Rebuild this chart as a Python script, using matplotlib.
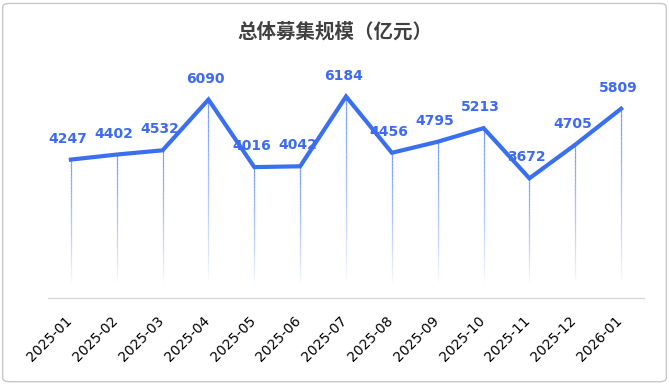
import matplotlib.pyplot as plt
import numpy as np
from matplotlib.collections import LineCollection
from matplotlib.patches import FancyBboxPatch
from matplotlib.transforms import ScaledTranslation

plt.rcParams['font.family'] = ['Noto Sans CJK SC', 'DejaVu Sans']

months = ['2025-01', '2025-02', '2025-03', '2025-04', '2025-05', '2025-06', '2025-07',
          '2025-08', '2025-09', '2025-10', '2025-11', '2025-12', '2026-01']
values = [4247, 4402, 4532, 6090, 4016, 4042, 6184, 4456, 4795, 5213, 3672, 4705, 5809]

line_color = '#3a70f0'
label_color = '#3d6af2'

fig = plt.figure(figsize=(6.69, 3.84), dpi=100)
ax = fig.add_axes([0.0717, 0.224, 0.891, 0.594])

x = np.arange(len(values))

# fading drop lines
for xi, v in zip(x, values):
    ys = np.linspace(v, 400, 40)
    segs = [[(xi, ys[i]), (xi, ys[i + 1])] for i in range(len(ys) - 1)]
    alphas = np.linspace(1.0, 0.0, len(segs)) ** 0.8
    cols = [(0.45, 0.6, 0.98, a) for a in alphas]
    ax.add_collection(LineCollection(segs, colors=cols, linewidths=0.9, zorder=1))

ax.plot(x, values, color=line_color, lw=3, zorder=3, solid_joinstyle='miter')

for xi, v in zip(x, values):
    ax.annotate(str(v), (xi, v), xytext=(-2, 10), textcoords='offset points',
                ha='center', va='bottom', fontsize=10, fontweight='bold',
                color=label_color, family='DejaVu Sans')

ax.set_xlim(-0.5, len(values) - 0.5)
ax.set_ylim(0, 7000)
ax.set_yticks([])
ax.set_xticks(x)
ax.set_xticklabels(months, rotation=45, ha='right', rotation_mode='anchor',
                   fontsize=10, family='DejaVu Sans')
ax.tick_params(axis='x', length=0, pad=11)
shift = ScaledTranslation(-6 / 100, 0, fig.dpi_scale_trans)
for lbl in ax.get_xticklabels():
    lbl.set_transform(lbl.get_transform() + shift)
for s in ['top', 'right', 'left']:
    ax.spines[s].set_visible(False)
ax.spines['bottom'].set_color('#d9d9d9')
ax.spines['bottom'].set_linewidth(1)

fig.text(0.5, 0.917, '总体募集规模（亿元）', ha='center', va='center',
         fontsize=14, fontweight='bold', color='#404040')

border = FancyBboxPatch((0.004, 0.006), 0.992, 0.985, boxstyle='round,pad=0,rounding_size=0.01',
                        transform=fig.transFigure, fill=False, edgecolor='#c8c8c8', lw=1)
fig.patches.append(border)

fig.savefig('out.png', dpi=100)
